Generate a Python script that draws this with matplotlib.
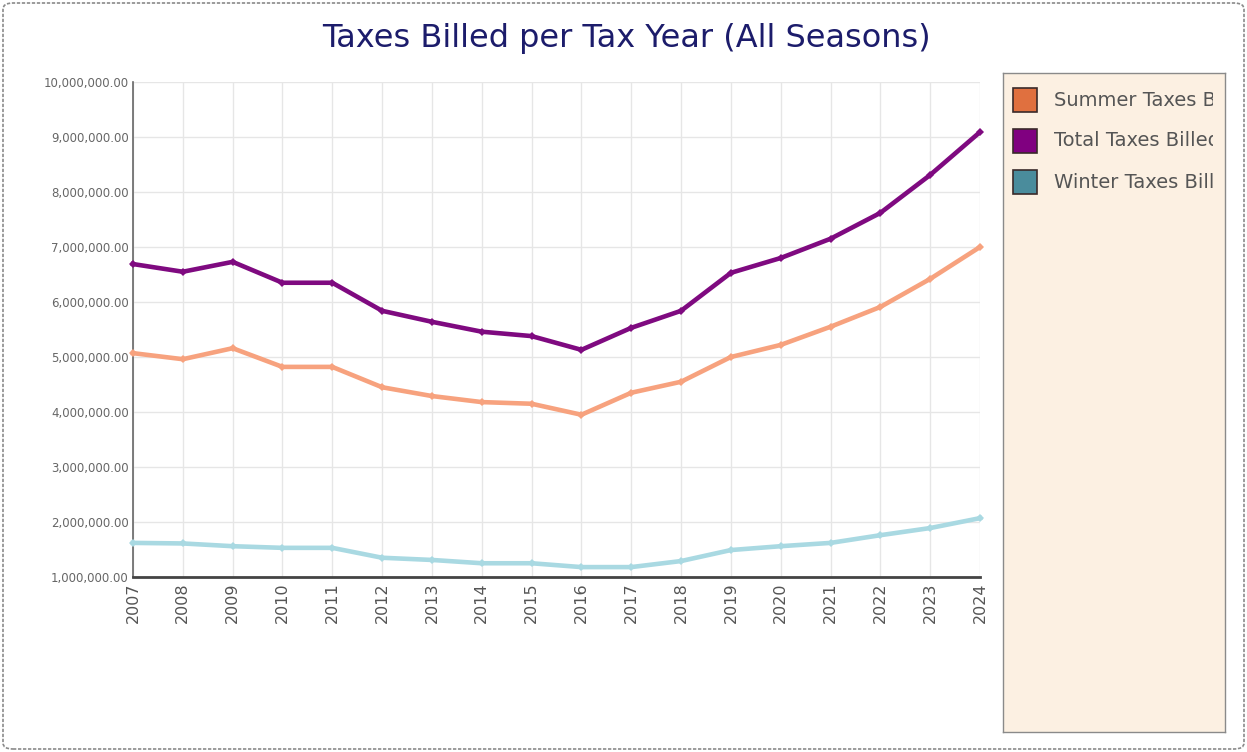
import matplotlib
matplotlib.use("Agg")
import matplotlib.pyplot as plt
from matplotlib.patches import FancyBboxPatch, Rectangle
from matplotlib.ticker import FuncFormatter, MultipleLocator

years = list(range(2007, 2025))
summer = [5.07, 4.96, 5.16, 4.82, 4.82, 4.45, 4.29, 4.18, 4.15, 3.95,
          4.35, 4.55, 5.00, 5.22, 5.55, 5.91, 6.42, 7.00]
winter = [1.62, 1.61, 1.56, 1.53, 1.53, 1.35, 1.31, 1.25, 1.25, 1.18,
          1.18, 1.29, 1.49, 1.56, 1.62, 1.76, 1.89, 2.07]
total = [6.69, 6.55, 6.73, 6.35, 6.35, 5.84, 5.64, 5.46, 5.38, 5.13,
         5.53, 5.84, 6.53, 6.80, 7.15, 7.62, 8.31, 9.09]
summer = [v * 1e6 for v in summer]
winter = [v * 1e6 for v in winter]
total = [v * 1e6 for v in total]

series_names = ["Summer Taxes Billed", "Total Taxes Billed", "Winter Taxes Billed"]
line_colors = ["#f7a27e", "#7f0a80", "#a9d9e2"]
swatch_colors = ["#e0703f", "#800080", "#4a8c9c"]

W, H = 1247, 752
fig = plt.figure(figsize=(W / 100, H / 100), dpi=100)
fig.patch.set_facecolor("white")

# outer dashed border
border = FancyBboxPatch((3 / W, 3 / H), 1 - 6 / W, 1 - 6 / H,
                        boxstyle="round,pad=0,rounding_size=0.008",
                        transform=fig.transFigure, fill=False,
                        edgecolor="#8a8a8a", linestyle=(0, (2, 1)), linewidth=1.2)
fig.patches.append(border)

fig.text(626 / W, 1 - 38 / H, "Taxes Billed per Tax Year (All Seasons)",
         ha="center", va="center", fontsize=23, color="#1c1c6b",
         family="DejaVu Sans")

ax = fig.add_axes([133 / W, 1 - 577 / H, (980 - 133) / W, (577 - 82) / H])
ax.set_facecolor("white")

for vals, c, z in [(winter, line_colors[2], 3), (summer, line_colors[0], 4), (total, line_colors[1], 5)]:
    ax.plot(years, vals, color=c, linewidth=3.3, marker="D", markersize=4.5,
            markeredgewidth=0, zorder=z, solid_joinstyle="round", clip_on=False)

ax.set_xlim(2007, 2024)
ax.set_ylim(1e6, 1e7)
ax.set_xticks(years)
ax.set_xticklabels([str(y) for y in years], rotation=90, fontsize=11.5, color="#555555")
ax.yaxis.set_major_locator(MultipleLocator(1e6))
ax.yaxis.set_major_formatter(FuncFormatter(lambda v, p: f"{v:,.2f}"))
for lab in ax.get_yticklabels():
    lab.set_fontsize(8.5)
    lab.set_color("#666666")
ax.tick_params(axis="both", length=0, pad=3)
ax.tick_params(axis="x", pad=4)
ax.grid(True, color="#e6e6e6", linewidth=1)
ax.set_axisbelow(True)
for s in ["top", "right"]:
    ax.spines[s].set_visible(False)
ax.spines["left"].set_color("#666666")
ax.spines["left"].set_linewidth(1.2)
ax.spines["bottom"].set_color("#444444")
ax.spines["bottom"].set_linewidth(2)

# legend panel
lax = fig.add_axes([1003 / W, 1 - 732 / H, 222 / W, 659 / H])
lax.set_xlim(0, 222)
lax.set_ylim(659, 0)
lax.set_facecolor("#fcf0e2")
lax.set_xticks([])
lax.set_yticks([])
for s in lax.spines.values():
    s.set_color("#8a8a8a")
    s.set_linewidth(1)

# inner text area (clips long names like the original widget)
tax = fig.add_axes([1003 / W, 1 - 732 / H, 210 / W, 659 / H])
tax.set_xlim(0, 210)
tax.set_ylim(659, 0)
tax.axis("off")
for i, (name, c) in enumerate(zip(series_names, swatch_colors)):
    yc = 27 + i * 41
    tax.add_patch(Rectangle((10, yc - 12), 24, 24, facecolor=c,
                            edgecolor="#3a2a2a", linewidth=1.2))
    tax.text(51, yc, name, va="center", ha="left", fontsize=14,
             color="#555555", clip_on=True)

fig.savefig("out.png", dpi=100)
